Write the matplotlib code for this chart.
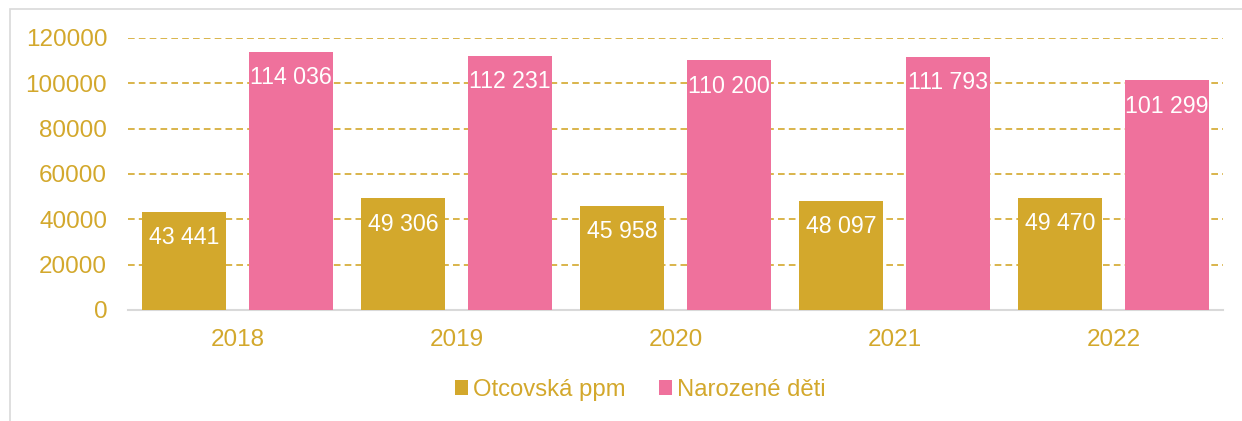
import numpy as np
import matplotlib.pyplot as plt
from matplotlib.patches import Rectangle

years = ["2018", "2019", "2020", "2021", "2022"]
otcovska = [43441, 49306, 45958, 48097, 49470]
narozene = [114036, 112231, 110200, 111793, 101299]
series_names = ["Otcovská ppm", "Narozené děti"]

gold = "#D3A82C"
pink = "#EF719C"
txt = "#D3A82C"

plt.rcParams['font.family'] = ['Liberation Sans', 'DejaVu Sans']

fig = plt.figure(figsize=(12.42, 4.21), dpi=100)
W, H = 1242, 421
ax = fig.add_axes([128 / W, 1 - 310 / H, (1223 - 128) / W, (310 - 38) / H])

# outer light gray frame
fig.patches.append(Rectangle((10 / W, -0.01), 1.05, 1 - 9 / H + 0.01,
                             transform=fig.transFigure, fill=False,
                             edgecolor="#D9D9D9", linewidth=1.2))

x = np.arange(len(years))
bw = 0.383
off = 0.2425
b1 = ax.bar(x - off, otcovska, bw, color=gold, label=series_names[0], zorder=3)
b2 = ax.bar(x + off, narozene, bw, color=pink, label=series_names[1], zorder=3)

def fmt(v):
    return f"{v:,}".replace(",", " ")

for bars, vals in [(b1, otcovska), (b2, narozene)]:
    for r, v in zip(bars, vals):
        ax.annotate(fmt(v), (r.get_x() + r.get_width() / 2, v),
                    xytext=(0, -26), textcoords="offset pixels",
                    ha="center", va="center", color="white", fontsize=16.7, zorder=4)

ax.set_xlim(-0.5, len(years) - 0.5)
ax.set_ylim(0, 120000)
ax.set_yticks(range(0, 120001, 20000))
ax.set_yticklabels([str(t) for t in range(0, 120001, 20000)])
ax.set_xticks(x)
ax.set_xticklabels(years)
ax.tick_params(axis="both", length=0, labelsize=17.5, colors=txt)
ax.tick_params(axis="y", pad=15)
ax.tick_params(axis="x", pad=14)
ax.yaxis.grid(True, linestyle=(0, (4, 2.5)), color=gold, linewidth=1.2, zorder=0)
for s in ["top", "right", "left"]:
    ax.spines[s].set_visible(False)
ax.spines["bottom"].set_color("#D9D9D9")
ax.spines["bottom"].set_linewidth(1.5)

leg = fig.legend(loc="center", bbox_to_anchor=(640 / W, 1 - 390 / H), ncol=2,
                 frameon=False, fontsize=17.2, handlelength=0.55, handleheight=0.55,
                 handletextpad=0.2, columnspacing=1.4)
for t in leg.get_texts():
    t.set_color(txt)

fig.savefig("out.png", dpi=100)
